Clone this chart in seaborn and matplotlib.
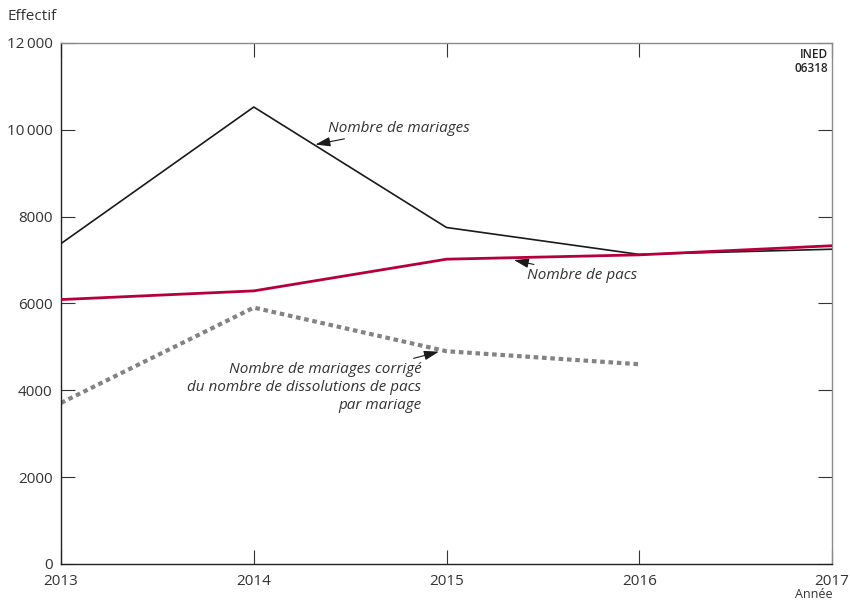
import numpy as np
import pandas as pd
import seaborn as sns
import matplotlib.pyplot as plt
from matplotlib.ticker import FuncFormatter

# données
annees = [2013, 2014, 2015, 2016, 2017]
mariages = [7380, 10525, 7750, 7130, 7250]
pacs = [6090, 6290, 7020, 7120, 7330]
annees_corr = [2013, 2014, 2015, 2016]
mariages_corr = [3710, 5905, 4900, 4600]

df = pd.DataFrame({"annee": annees, "mariages": mariages, "pacs": pacs})
df_corr = pd.DataFrame({"annee": annees_corr, "corr": mariages_corr})

sns.set_style("ticks")
plt.rcParams["font.family"] = ["Open Sans", "DejaVu Sans"]

fig = plt.figure(figsize=(8.5, 6.01), dpi=100)
ax = fig.add_axes([0.0718, 0.0616, 0.9070, 0.8669])

sns.lineplot(data=df_corr, x="annee", y="corr", ax=ax, color="#838383",
             linewidth=3.0, dashes=False, zorder=2)
ax.lines[-1].set_dashes((1.1, 0.9))
sns.lineplot(data=df, x="annee", y="mariages", ax=ax, color="#1a1a1a",
             linewidth=1.2, zorder=3)
sns.lineplot(data=df, x="annee", y="pacs", ax=ax, color="#b4003c",
             linewidth=2.0, zorder=4)

ax.set_xlim(2013, 2017)
ax.set_ylim(0, 12000)
ax.set_xticks(annees)
ax.set_yticks(np.arange(0, 12001, 2000))
ax.yaxis.set_major_formatter(FuncFormatter(
    lambda v, p: f"{int(v):,}".replace(",", "\u2009") if v >= 10000 else f"{int(v)}"))
ax.set_xlabel("")
ax.set_ylabel("")

ax.tick_params(axis="both", direction="in", length=10, width=0.8,
               labelsize=11, colors="#333333", labelcolor="#333333")
ax.tick_params(axis="y", right=True, pad=6)
ax.tick_params(axis="x", top=True, pad=7)
for s in ["left", "bottom"]:
    ax.spines[s].set_color("#222222")
    ax.spines[s].set_linewidth(1.0)
for s in ["right", "top"]:
    ax.spines[s].set_visible(True)
    ax.spines[s].set_color("#8a8a8a")
    ax.spines[s].set_linewidth(1.0)

fig.text(0.009, 0.972, "Effectif", fontsize=11, color="#333333", va="center")
fig.text(0.979, 0.0, "Année", fontsize=9, color="#333333", ha="right", va="bottom")
ax.text(0.995, 0.99, "INED\n06318", transform=ax.transAxes, fontsize=8.5,
        ha="right", va="top", color="#222222", linespacing=1.1,
        fontweight="semibold", fontstretch="condensed")

arrow = dict(arrowstyle="-|>,head_length=1.0,head_width=0.32", color="#1a1a1a",
             lw=0.8, mutation_scale=9, shrinkA=0, shrinkB=0)
ital = dict(fontsize=11, style="italic", color="#333333")
ax.annotate("Nombre de mariages", xy=(2014.32, 9660), xytext=(2014.385, 10040),
            ha="left", va="center", arrowprops=arrow, **ital)
ax.annotate("Nombre de pacs", xy=(2015.35, 7000), xytext=(2015.42, 6650),
            ha="left", va="center", arrowprops=arrow, **ital)
ax.annotate("Nombre de mariages corrigé\ndu nombre de dissolutions de pacs\npar mariage",
            xy=(2014.96, 4890), xytext=(2014.87, 4660),
            ha="right", va="top", multialignment="right", linespacing=1.3,
            arrowprops=arrow, **ital)

fig.savefig("out.png", dpi=100)
